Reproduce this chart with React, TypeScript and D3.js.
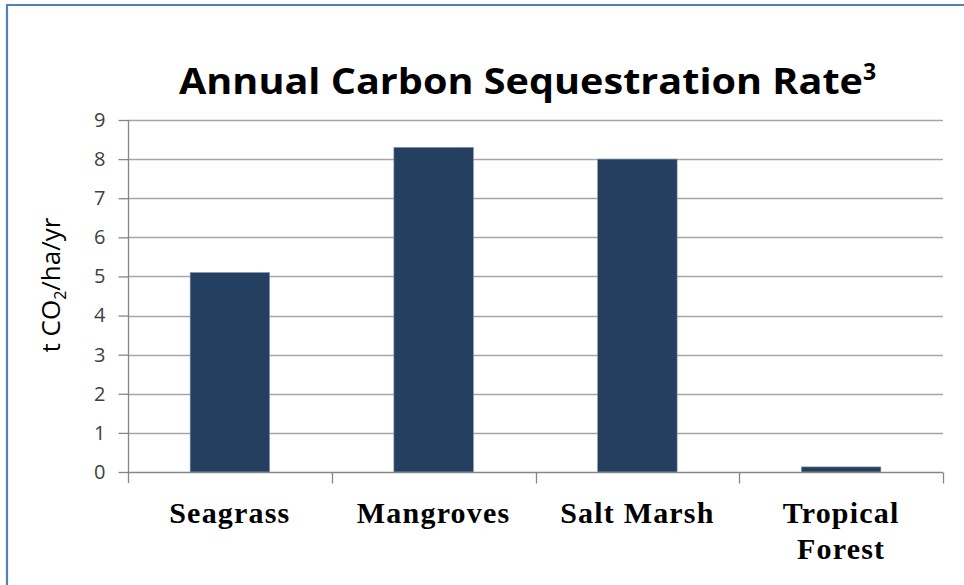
import { useEffect, useRef } from 'react'
import * as d3 from 'd3'

const categories = ['Seagrass', 'Mangroves', 'Salt Marsh', 'Tropical Forest']
const rates = [5.1, 8.3, 8.0, 0.13]
const yTicks = [0, 1, 2, 3, 4, 5, 6, 7, 8, 9]

const width = 964
const height = 585

const App = () => {
  const ref = useRef<SVGSVGElement>(null)

  useEffect(() => {
    const svg = d3.select(ref.current)
    svg.selectAll('*').remove()

    const margin = { top: 120, right: 21, bottom: 113, left: 128 }

    const x = d3
      .scaleBand()
      .domain(categories)
      .range([margin.left, width - margin.right])
      .paddingInner(0.61)
      .paddingOuter(0.305)

    const band = d3
      .scaleBand()
      .domain(categories)
      .range([margin.left, width - margin.right])

    const y = d3
      .scaleLinear()
      .domain([0, 9])
      .range([height - margin.bottom, margin.top])

    // frame
    svg
      .append('path')
      .attr('d', `M7,${height} V5 H${width}`)
      .attr('fill', 'none')
      .attr('stroke', '#4f81bd')
      .attr('stroke-width', 2.2)

    // gridlines
    svg
      .append('g')
      .selectAll('line')
      .data(yTicks.filter((d) => d > 0))
      .join('line')
      .attr('x1', margin.left)
      .attr('x2', width - margin.right)
      .attr('y1', (d) => Math.round(y(d)) + 0.5)
      .attr('y2', (d) => Math.round(y(d)) + 0.5)
      .attr('stroke', '#a6a6a6')
      .attr('stroke-width', 1.3)

    // y axis
    const yAxis = svg
      .append('g')
      .attr('transform', `translate(${margin.left + 0.5},0)`)
      .call(d3.axisLeft(y).tickValues(yTicks).tickSize(10).tickPadding(13).tickFormat(d3.format('d')))
    yAxis.select('.domain').attr('stroke', '#868686').attr('stroke-width', 1.3).attr('d', `M0,${y(9)}V${y(0) + 11}`)
    yAxis.selectAll('.tick line').attr('stroke', '#868686').attr('stroke-width', 1.3)
    yAxis
      .selectAll('.tick text')
      .attr('font-family', '"Open Sans", sans-serif')
      .attr('font-size', 20)
      .attr('fill', '#404040')

    // bars
    svg
      .append('g')
      .selectAll('rect')
      .data(rates)
      .join('rect')
      .attr('x', (d, i) => x(categories[i]))
      .attr('width', x.bandwidth())
      .attr('y', (d) => y(d))
      .attr('height', (d) => y(0) - y(d))
      .attr('fill', '#243f60')
      .attr('stroke', '#7f93ad')
      .attr('stroke-width', 0.6)

    // x axis
    const base = Math.round(y(0)) + 0.5
    const xg = svg.append('g')
    xg.append('line')
      .attr('x1', margin.left)
      .attr('x2', width - margin.right)
      .attr('y1', base)
      .attr('y2', base)
      .attr('stroke', '#868686')
      .attr('stroke-width', 1.3)
    xg.selectAll('.xtick')
      .data(categories)
      .join('line')
      .attr('class', 'xtick')
      .attr('x1', (d) => Math.round(band(d)! + band.bandwidth()) + 0.5)
      .attr('x2', (d) => Math.round(band(d)! + band.bandwidth()) + 0.5)
      .attr('y1', base)
      .attr('y2', base + 11)
      .attr('stroke', '#868686')
      .attr('stroke-width', 1.3)

    const labels = xg
      .selectAll('text')
      .data(categories)
      .join('text')
      .attr('x', (d) => band(d)! + band.bandwidth() / 2)
      .attr('y', 523)
      .attr('text-anchor', 'middle')
      .attr('font-family', '"Liberation Serif", serif')
      .attr('font-weight', 'bold')
      .attr('font-size', 30)
      .attr('letter-spacing', 1.2)
      .attr('fill', '#000')
    labels.each(function (d) {
      const words = d === 'Tropical Forest' ? ['Tropical', 'Forest'] : [d]
      const t = d3.select(this)
      words.forEach((w, i) => {
        t.append('tspan')
          .attr('x', band(d)! + band.bandwidth() / 2)
          .attr('dy', i === 0 ? 0 : 36)
          .text(w)
      })
    })

    // y axis title
    const yt = svg
      .append('text')
      .attr('transform', `translate(60,285) rotate(-90)`)
      .attr('text-anchor', 'middle')
      .attr('font-family', '"Open Sans", sans-serif')
      .attr('font-size', 26)
      .attr('fill', '#000')
    yt.append('tspan').text('t CO')
    yt.append('tspan').attr('font-size', 16).attr('dy', 6).text('2')
    yt.append('tspan').attr('dy', -6).text('/ha/yr')

    // title
    const title = svg
      .append('text')
      .attr('x', 179)
      .attr('y', 94)
      .attr('font-family', '"Open Sans", sans-serif')
      .attr('font-weight', 'bold')
      .attr('font-size', 36)
      .attr('fill', '#000')
    title
      .append('tspan')
      .attr('textLength', 684)
      .attr('lengthAdjust', 'spacingAndGlyphs')
      .text('Annual Carbon Sequestration Rate')
    title.append('tspan').attr('font-size', 23).attr('dy', -14).text('3')
  }, [])

  return (
    <svg
      ref={ref}
      width={width}
      height={height}
      style={{ position: 'absolute', left: 0, top: 0, background: '#fff' }}
    />
  )
}

export default App
